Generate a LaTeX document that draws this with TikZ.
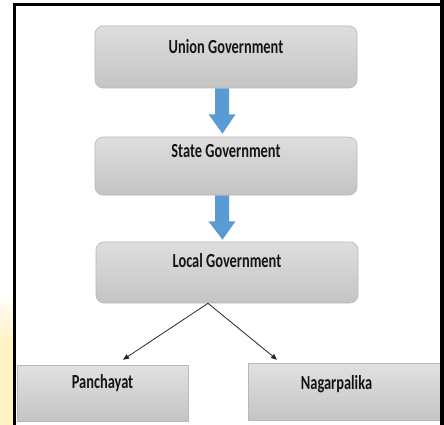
\documentclass[tikz,border=0pt]{standalone}
\usepackage{fontspec}
\newfontfamily\boxfont[FakeStretch=0.72]{Carlito}
\usetikzlibrary{arrows.meta,calc}
\definecolor{boxtop}{HTML}{DEDEDE}
\definecolor{boxbot}{HTML}{C4C4C4}
\definecolor{boxline}{HTML}{B8B8B8}
\definecolor{flow}{HTML}{5B9BD5}
\definecolor{glow}{HTML}{FFF3C6}
\definecolor{ink}{HTML}{151515}
\tikzset{
  govbox/.style={draw=boxline, line width=0.6pt, top color=boxtop, bottom color=boxbot,
    rounded corners=8pt, inner sep=0pt},
  subbox/.style={draw=boxline, line width=0.6pt, top color=boxtop!90!white, bottom color=boxbot,
    inner sep=0pt},
  boxtext/.style={anchor=base, font=\boxfont\bfseries\fontsize{20}{23}\selectfont, text=ink, inner sep=0pt},
  bluearrow/.style={fill=flow, draw=none},
  thinarrow/.style={draw=black!85, line width=0.8pt, -{Triangle[length=6pt,width=5pt]}},
  frame/.style={fill=black}
}
\begin{document}
\begin{tikzpicture}[x=1pt,y=-1pt]
\useasboundingbox (0,0) rectangle (444,425);
\fill[white] (0,0) rectangle (444,425);
% yellow glow bottom-left
\fill[top color=white, bottom color=glow, draw=none] (0,290) rectangle (13,340);
\fill[glow] (0,340) rectangle (13,425);

% boxes
\node[govbox, minimum width=262, minimum height=62,
  label={[boxtext, yshift=-28]north:Union Government}] (union) at (226,57) {};
\node[govbox, minimum width=262, minimum height=58,
  label={[boxtext, yshift=-21]north:State Government}] (state) at (226,166) {};
\node[govbox, minimum width=262, minimum height=61,
  label={[boxtext, yshift=-26]north:Local Government}] (local) at (227,272.5) {};
\node[subbox, minimum width=171, minimum height=56,
  label={[boxtext, yshift=-24]north:Panchayat}] (pan) at (102.5,393) {};
\node[subbox, minimum width=193, minimum height=57,
  label={[boxtext, yshift=-27, xshift=-8]north:Nagarpalika}] (nag) at (344.5,391.5) {};

% block arrows
\fill[bluearrow] ($(union.south)+(-11,0)$) -- ++(14,0) -- ++(0,26) -- ++(6.5,0)
  -- ($(state.north)+(-3.5,-3)$) -- ($(union.south)+(-17.5,26)$) -- ++(6.5,0) -- cycle;
\fill[bluearrow] ($(state.south)+(-11,0)$) -- ++(14,0) -- ++(0,26) -- ++(6.5,0)
  -- ($(local.north)+(-4.5,-2)$) -- ($(state.south)+(-17.5,26)$) -- ++(6.5,0) -- cycle;

% thin arrows
\coordinate (split) at ($(local.south)+(-19,0)$);
\coordinate (panend) at ($(pan.north)+(20.5,-5)$);
\coordinate (nagend) at ($(nag.north)+(-67.5,-3)$);
\draw[thinarrow] (split) -- (panend);
\draw[thinarrow] (split) -- (nagend);

% frame of the screenshot
\fill[frame] (13,3) rectangle (441,6);
\fill[frame] (13,3) rectangle (16,425);
\fill[frame] (440,0) rectangle (444,425);
\end{tikzpicture}
\end{document}
